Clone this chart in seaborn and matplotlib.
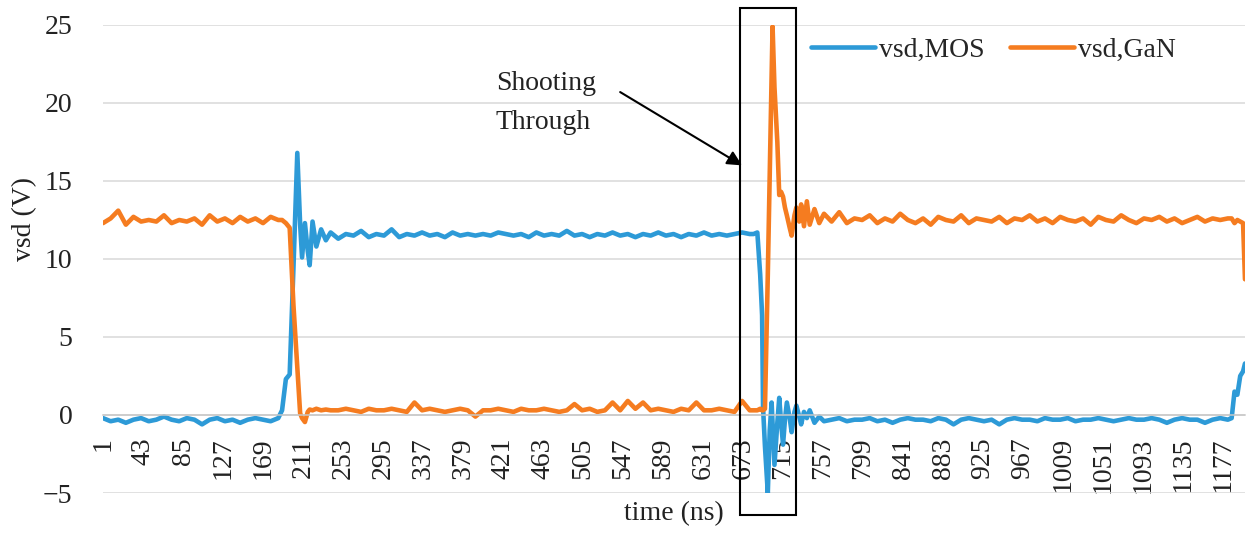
import matplotlib
matplotlib.use("Agg")
import matplotlib.pyplot as plt
from matplotlib.patches import Rectangle
import pandas as pd
import seaborn as sns

# Sample index (ns) at which each voltage was taken
time_ns = [
    1, 9, 17, 25, 33, 41, 49, 57, 65, 73, 81, 89, 97, 105, 113, 121, 129, 137,
    145, 153, 161, 169, 177, 185,
    189, 193, 197, 201, 205, 208, 210, 213, 216, 218, 221, 225, 230, 235, 240,
    248, 256, 264, 272, 280, 288, 296, 304, 312, 320, 328, 336, 344, 352, 360,
    368, 376, 384, 392, 400, 408, 416, 424, 432, 440, 448, 456, 464, 472, 480,
    488, 496, 504, 512, 520, 528, 536, 544, 552, 560, 568, 576, 584, 592, 600,
    608, 616, 624, 632, 640, 648, 656, 664, 672, 680,
    684, 688, 691, 693, 694, 696, 699, 701, 703, 704, 706, 709, 711, 713, 715,
    717, 719, 722, 724, 727, 729, 732, 734, 737, 740, 743, 748, 753, 758,
    766, 774, 782, 790, 798, 806, 814, 822, 830, 838, 846, 854, 862, 870, 878,
    886, 894, 902, 910, 918, 926, 934, 942, 950, 958, 966, 974, 982, 990, 998,
    1006, 1014, 1022, 1030, 1038, 1046, 1054, 1062, 1070, 1078, 1086, 1094,
    1102, 1110, 1118, 1126, 1134, 1142, 1150, 1158, 1166, 1174, 1182,
    1186, 1189, 1192, 1195, 1198, 1200,
]

vsd_mos = [
    -0.2, -0.4, -0.3, -0.5, -0.3, -0.2, -0.4, -0.3, -0.1, -0.3, -0.4, -0.2,
    -0.3, -0.6, -0.3, -0.2, -0.4, -0.3, -0.5, -0.3, -0.2, -0.3, -0.4, -0.2,
    0.3, 2.3, 2.6, 9.5, 16.8, 12.2, 10.1, 12.3, 10.5, 9.6, 12.4, 10.8, 11.9, 11.2, 11.7,
    11.3, 11.6, 11.5, 11.8, 11.4, 11.6, 11.5, 11.9, 11.4, 11.6,
    11.5, 11.7, 11.5, 11.6, 11.4, 11.7, 11.5, 11.6, 11.5, 11.6,
    11.5, 11.7, 11.6, 11.5, 11.6, 11.4, 11.7, 11.5, 11.6, 11.5,
    11.8, 11.5, 11.6, 11.4, 11.6, 11.5, 11.7, 11.5, 11.6, 11.4,
    11.6, 11.5, 11.7, 11.5, 11.6, 11.4, 11.6, 11.5, 11.7, 11.5,
    11.6, 11.5, 11.6, 11.7, 11.6,
    11.6, 11.7, 9.0, 6.4, 0.5, -2.0, -5.0, -1.0, 0.8, -0.5, -3.2, -0.5, 1.1,
    -0.5, -1.9, -0.3, 0.8, -0.2, -1.1, 0.2, 0.6, -0.1, -0.6, 0.2, -0.2, 0.3,
    -0.5, -0.1, -0.4,
    -0.3, -0.2, -0.4, -0.3, -0.3, -0.2, -0.4, -0.3, -0.5, -0.3,
    -0.2, -0.3, -0.3, -0.4, -0.2, -0.3, -0.6, -0.3, -0.2, -0.3,
    -0.4, -0.3, -0.6, -0.3, -0.2, -0.3, -0.3, -0.4, -0.2, -0.3,
    -0.3, -0.2, -0.4, -0.3, -0.3, -0.2, -0.3, -0.4, -0.3, -0.2,
    -0.3, -0.3, -0.2, -0.3, -0.5, -0.3, -0.2, -0.3, -0.3, -0.5,
    -0.3, -0.2, -0.3,
    -0.2, 1.5, 1.3, 2.5, 2.8, 3.3,
]

vsd_gan = [
    12.3, 12.6, 13.1, 12.2, 12.7, 12.4, 12.5, 12.4, 12.8, 12.3, 12.5, 12.4,
    12.6, 12.2, 12.8, 12.4, 12.6, 12.3, 12.7, 12.4, 12.6, 12.3, 12.7, 12.5,
    12.5, 12.3, 12.0, 7.0, 3.0, 0.1, -0.2, -0.45, 0.2, 0.35, 0.3, 0.4, 0.3, 0.35, 0.3,
    0.3, 0.4, 0.3, 0.2, 0.4, 0.3, 0.3, 0.4, 0.3, 0.2,
    0.8, 0.3, 0.4, 0.3, 0.2, 0.3, 0.4, 0.3, -0.1, 0.3,
    0.3, 0.4, 0.3, 0.2, 0.4, 0.3, 0.3, 0.4, 0.3, 0.2,
    0.3, 0.7, 0.3, 0.4, 0.2, 0.3, 0.8, 0.3, 0.9, 0.4,
    0.8, 0.3, 0.4, 0.3, 0.2, 0.4, 0.3, 0.8, 0.3, 0.3,
    0.4, 0.3, 0.2, 0.9, 0.3,
    0.3, 0.3, 0.4, 0.3, 0.3, 0.4, 9.0, 15.5, 22.0, 24.9, 21.0, 17.5, 14.1,
    14.3, 14.0, 13.3, 12.8, 12.0, 11.5, 12.8, 13.3, 12.4, 13.5, 12.1, 13.7,
    12.2, 13.2, 12.3, 12.9,
    12.4, 13.0, 12.3, 12.6, 12.5, 12.8, 12.3, 12.6, 12.4, 12.9,
    12.5, 12.3, 12.6, 12.2, 12.7, 12.5, 12.4, 12.8, 12.3, 12.6,
    12.5, 12.4, 12.7, 12.3, 12.6, 12.5, 12.8, 12.4, 12.6, 12.3,
    12.7, 12.5, 12.4, 12.6, 12.2, 12.7, 12.5, 12.4, 12.8, 12.5,
    12.3, 12.6, 12.5, 12.7, 12.4, 12.6, 12.3, 12.5, 12.7, 12.4,
    12.6, 12.5, 12.6,
    12.6, 12.3, 12.5, 12.4, 12.3, 8.7,
]

series_names = ["vsd,MOS", "vsd,GaN"]
series_colors = ["#2D9AD7", "#F57C20"]
x_tick_labels = [1, 43, 85, 127, 169, 211, 253, 295, 337, 379, 421, 463, 505,
                 547, 589, 631, 673, 715, 757, 799, 841, 883, 925, 967, 1009,
                 1051, 1093, 1135, 1177]
y_ticks = [-5, 0, 5, 10, 15, 20, 25]

df = pd.concat([
    pd.DataFrame({"time": time_ns, "vsd": vsd_mos, "series": series_names[0]}),
    pd.DataFrame({"time": time_ns, "vsd": vsd_gan, "series": series_names[1]}),
], ignore_index=True)

sns.set_theme(style="white")
plt.rcParams["font.family"] = ["Liberation Serif", "DejaVu Serif"]

TEXT = "#222222"
FS = 20

fig = plt.figure(figsize=(12.53, 5.35), dpi=100)
ax = fig.add_axes([0.0822, 0.0785, 0.9114, 0.8748])

sns.lineplot(data=df, x="time", y="vsd", hue="series", hue_order=series_names,
             palette=dict(zip(series_names, series_colors)), estimator=None,
             sort=False, linewidth=3.3, ax=ax)

ax.set_xlim(1, 1200)
ax.set_ylim(-5, 25)
ax.set_yticks(y_ticks)
ax.set_xticks(x_tick_labels)
ax.set_xticklabels([str(v) for v in x_tick_labels])
ax.tick_params(axis="both", labelsize=FS, length=0, colors=TEXT)
ax.tick_params(axis="x", pad=16, labelrotation=90)
ax.tick_params(axis="y", pad=22)
ax.grid(axis="y", color="#d9d9d9", linewidth=1.1)
ax.set_axisbelow(True)

for side in ("left", "right", "top"):
    ax.spines[side].set_visible(False)
ax.spines["bottom"].set_position(("data", 0))
ax.spines["bottom"].set_color("#c8c8c8")
ax.spines["bottom"].set_linewidth(1.1)

ax.set_xlabel("time (ns)", fontsize=FS, color=TEXT)
ax.xaxis.set_label_coords(0.5, -0.018)
ax.set_ylabel("vsd (V)", fontsize=FS, color=TEXT)
ax.yaxis.set_label_coords(-0.058, 0.585)

handles, labels = ax.get_legend_handles_labels()
ax.legend(handles, labels, loc="center", bbox_to_anchor=(0.793, 0.9065),
          bbox_transform=fig.transFigure, ncol=2, frameon=False, fontsize=FS,
          handlelength=2.3, handletextpad=0.15, columnspacing=0.9)

# Highlight box around the shoot-through event
ax.add_patch(Rectangle((670, -6.4), 59, 32.5, fill=False, edgecolor="black",
                       linewidth=1.5, clip_on=False, zorder=5))
ax.text(466, 20.0, "Shooting\nThrough", ha="center", va="center", fontsize=FS,
        color=TEXT, linespacing=1.78, multialignment="left")
ax.annotate("", xy=(672, 16.0), xytext=(544, 20.7),
            arrowprops=dict(arrowstyle="-|>", color="black", lw=1.5,
                            mutation_scale=22, shrinkA=0, shrinkB=0),
            annotation_clip=False)

fig.savefig("out.png", dpi=100)
